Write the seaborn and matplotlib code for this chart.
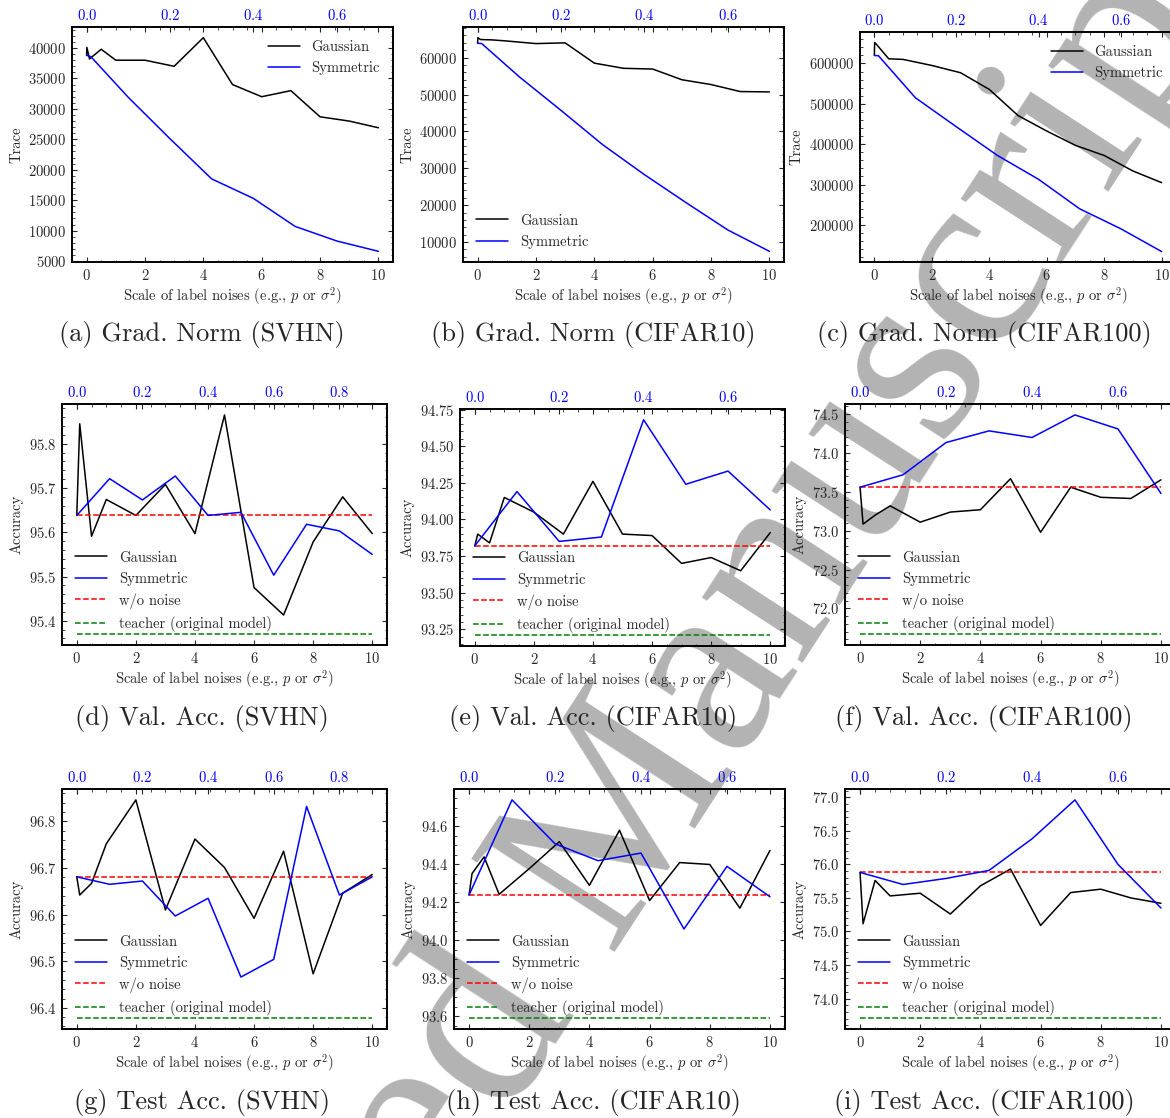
import matplotlib
matplotlib.use('Agg')
import matplotlib.pyplot as plt
import seaborn as sns
from matplotlib.ticker import MultipleLocator, AutoMinorLocator
from matplotlib.lines import Line2D

sns.set_style('ticks')
plt.rcParams['font.family'] = ['cmr10', 'DejaVu Serif']
plt.rcParams['mathtext.fontset'] = 'cm'
plt.rcParams['axes.formatter.use_mathtext'] = True
plt.rcParams['axes.unicode_minus'] = False

W, H = 1170, 1118

# x values (Gaussian: sigma^2 on bottom axis, Symmetric: p on top axis)
gauss_x_grad = [0, 0.01, 0.1, 0.5, 1, 2, 3, 4, 5, 6, 7, 8, 9, 10]
gauss_x = [0, 0.1, 0.5, 1, 2, 3, 4, 5, 6, 7, 8, 9, 10]
sym_p_grad = [0, 0.01, 0.1, 0.2, 0.3, 0.4, 0.5, 0.6, 0.7]
sym_p7 = [0, 0.1, 0.2, 0.3, 0.4, 0.5, 0.6, 0.7]
sym_p9 = [0, 0.1, 0.2, 0.3, 0.4, 0.5, 0.6, 0.7, 0.8, 0.9]

# (a) grad norm SVHN
gauss_a = [38800, 40100, 38200, 39800, 38000, 38000, 37000, 41700, 34000, 32000, 33000, 28700, 28000, 26900]
sym_a = [38800, 38600, 31900, 25100, 18500, 15300, 10700, 8300, 6600]
# (b) grad norm CIFAR10
gauss_b = [63900, 65400, 64900, 64800, 64500, 63800, 64000, 58500, 57100, 56900, 54000, 52700, 50800, 50700]
sym_b = [63900, 63800, 54800, 45700, 36400, 28300, 20700, 13300, 7500]
# (c) grad norm CIFAR100
gauss_c = [620000, 652000, 645000, 611500, 610000, 595000, 577000, 535700, 471000, 432600, 397000, 372000, 333600, 304700]
sym_c = [619800, 619000, 515000, 443000, 372000, 313000, 240000, 190700, 134000]

# (d) val acc SVHN
gauss_d = [95.638, 95.845, 95.591, 95.674, 95.638, 95.708, 95.597, 95.865, 95.475, 95.413, 95.578, 95.680, 95.597]
sym_d = [95.638, 95.721, 95.673, 95.727, 95.638, 95.645, 95.503, 95.618, 95.603, 95.550]
base_d, teacher_d = 95.638, 95.370
# (e) val acc CIFAR10
gauss_e = [93.82, 93.90, 93.84, 94.15, 94.05, 93.90, 94.26, 93.90, 93.89, 93.70, 93.74, 93.65, 93.91]
sym_e = [93.82, 94.19, 93.85, 93.88, 94.68, 94.24, 94.33, 94.065]
base_e, teacher_e = 93.82, 93.21
# (f) val acc CIFAR100
gauss_f = [73.56, 73.085, 73.20, 73.32, 73.11, 73.24, 73.27, 73.67, 72.98, 73.56, 73.43, 73.415, 73.655]
sym_f = [73.56, 73.72, 74.135, 74.285, 74.20, 74.49, 74.31, 73.48]
base_f, teacher_f = 73.56, 71.67

# (g) test acc SVHN
gauss_g = [96.681, 96.642, 96.667, 96.752, 96.846, 96.610, 96.762, 96.701, 96.592, 96.736, 96.473, 96.646, 96.686]
sym_g = [96.681, 96.665, 96.672, 96.597, 96.635, 96.466, 96.504, 96.832, 96.642, 96.681]
base_g, teacher_g = 96.681, 96.378
# (h) test acc CIFAR10
gauss_h = [94.239, 94.352, 94.44, 94.243, 94.378, 94.52, 94.29, 94.58, 94.21, 94.41, 94.40, 94.17, 94.474]
sym_h = [94.239, 94.74, 94.509, 94.42, 94.46, 94.06, 94.39, 94.23]
base_h, teacher_h = 94.24, 93.591
# (i) test acc CIFAR100
gauss_i = [75.88, 75.115, 75.76, 75.53, 75.57, 75.26, 75.68, 75.93, 75.09, 75.58, 75.63, 75.50, 75.42]
sym_i = [75.88, 75.70, 75.79, 75.91, 76.38, 76.96, 76.00, 75.35]
base_i, teacher_i = 75.88, 73.71

captions = ['(a) Grad. Norm (SVHN)', '(b) Grad. Norm (CIFAR10)', '(c) Grad. Norm (CIFAR100)',
            '(d) Val. Acc. (SVHN)', '(e) Val. Acc. (CIFAR10)', '(f) Val. Acc. (CIFAR100)',
            '(g) Test Acc. (SVHN)', '(h) Test Acc. (CIFAR10)', '(i) Test Acc. (CIFAR100)']

panels = [
    dict(gx=gauss_x_grad, gy=gauss_a, sp=sym_p_grad, sy=sym_a, pmax=0.7, base=None, teacher=None, ystep=5000, ylab='Trace', loc='upper right'),
    dict(gx=gauss_x_grad, gy=gauss_b, sp=sym_p_grad, sy=sym_b, pmax=0.7, base=None, teacher=None, ystep=10000, ylab='Trace', loc='lower left'),
    dict(gx=gauss_x_grad, gy=gauss_c, sp=sym_p_grad, sy=sym_c, pmax=0.7, base=None, teacher=None, ystep=100000, ylab='Trace', loc='upper right'),
    dict(gx=gauss_x, gy=gauss_d, sp=sym_p9, sy=sym_d, pmax=0.9, base=base_d, teacher=teacher_d, ystep=0.1, ylab='Accuracy', loc='lower left'),
    dict(gx=gauss_x, gy=gauss_e, sp=sym_p7, sy=sym_e, pmax=0.7, base=base_e, teacher=teacher_e, ystep=0.25, ylab='Accuracy', loc='lower left'),
    dict(gx=gauss_x, gy=gauss_f, sp=sym_p7, sy=sym_f, pmax=0.7, base=base_f, teacher=teacher_f, ystep=0.5, ylab='Accuracy', loc='lower left'),
    dict(gx=gauss_x, gy=gauss_g, sp=sym_p9, sy=sym_g, pmax=0.9, base=base_g, teacher=teacher_g, ystep=0.1, ylab='Accuracy', loc='lower left'),
    dict(gx=gauss_x, gy=gauss_h, sp=sym_p7, sy=sym_h, pmax=0.7, base=base_h, teacher=teacher_h, ystep=0.2, ylab='Accuracy', loc='lower left'),
    dict(gx=gauss_x, gy=gauss_i, sp=sym_p7, sy=sym_i, pmax=0.7, base=base_i, teacher=teacher_i, ystep=0.5, ylab='Accuracy', loc='lower left'),
]

# axes boxes in pixels: left, right, top, bottom
boxes = [(72, 393, 27, 262), (463, 784, 27, 262), (860, 1176, 32, 262),
         (62, 387, 404, 645), (460, 785, 409, 646), (845, 1176, 404, 645),
         (62, 387, 789, 1029), (454, 785, 789, 1029), (845, 1176, 789, 1029)]
cap_x = [202, 593, 984]
cap_y = [334, 719, 1103]

fig = plt.figure(figsize=(W / 100, H / 100), dpi=100)

# watermark behind everything
fig.text(596 / W, 1 - 866 / H, 'Accepted Manuscript', rotation=57, fontsize=187,
         family='Liberation Serif', color='#b3b3b3', ha='center', va='center', zorder=-5)

fs = 10.5
for i, (p, (l, r, t, b)) in enumerate(zip(panels, boxes)):
    ax = fig.add_axes([l / W, 1 - b / H, (r - l) / W, (b - t) / H])
    ax.set_facecolor('none')
    ax2 = ax.twiny()

    sns.lineplot(x=p['gx'], y=p['gy'], ax=ax, color='black', lw=1.1,
                 estimator=None, sort=False, legend=False)
    handles = [Line2D([], [], color='black', lw=1.1, label='Gaussian'),
               Line2D([], [], color='blue', lw=1.1, label='Symmetric')]
    if p['base'] is not None:
        ax.hlines(p['base'], 0, 10, colors='red', linestyles='--', lw=1.1)
        ax.hlines(p['teacher'], 0, 10, colors='green', linestyles='--', lw=1.1)
        handles += [Line2D([], [], color='red', ls='--', lw=1.1, label='w/o noise'),
                    Line2D([], [], color='green', ls='--', lw=1.1, label='teacher (original model)')]
    sns.lineplot(x=p['sp'], y=p['sy'], ax=ax2, color='blue', lw=1.1,
                 estimator=None, sort=False, legend=False)

    ax.set_xlim(-0.5, 10.5)
    s = p['pmax'] / 10
    ax2.set_xlim(-0.5 * s, 10.5 * s)

    ax.xaxis.set_major_locator(MultipleLocator(2))
    ax.xaxis.set_minor_locator(AutoMinorLocator())
    ax.yaxis.set_major_locator(MultipleLocator(p['ystep']))
    ax.yaxis.set_minor_locator(AutoMinorLocator())
    ax.ticklabel_format(axis='y', useOffset=False, style='plain')
    ax2.xaxis.set_major_locator(MultipleLocator(0.2))

    ax.tick_params(which='both', direction='in', top=True, right=True, labelsize=fs, pad=4)
    ax.tick_params(which='major', length=3.5, width=0.8)
    ax.tick_params(which='minor', length=1.8, width=0.6)
    ax2.tick_params(axis='x', which='both', direction='in', length=3.5, width=0.8,
                    labelsize=fs, labelcolor='blue', pad=3)
    for sp in list(ax.spines.values()) + list(ax2.spines.values()):
        sp.set_linewidth(1.2)
        sp.set_color('black')

    ax.set_xlabel(r'Scale of label noises (e.g., $p$ or $\sigma^2$)', fontsize=fs, labelpad=1.5)
    ax.set_ylabel(p['ylab'], fontsize=fs, labelpad=4)
    ax2.set_ylabel('')

    ax2.legend(handles=handles, loc=p['loc'], frameon=False, fontsize=fs, handlelength=2.2)

    fig.text(cap_x[i % 3] / W, 1 - cap_y[i // 3] / H, captions[i], fontsize=19,
             ha='center', va='center')

fig.savefig('out.png', dpi=100)
